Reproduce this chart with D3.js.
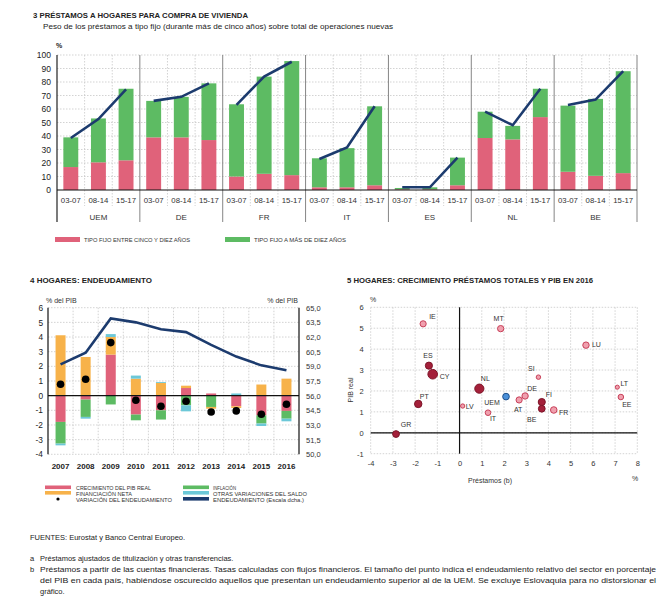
<!DOCTYPE html>
<html><head><meta charset="utf-8">
<script src="https://cdn.jsdelivr.net/npm/d3@7"></script>
<style>
body{margin:0;background:#fff;}
svg text{font-family:"Liberation Sans",Arial,Helvetica,sans-serif;}
</style></head>
<body><svg id="c" width="667" height="616"></svg>
<script>
// ---------- DATA: chart 3 ----------
const groups = ["UEM","DE","FR","IT","ES","NL","BE"];
const periods = ["03-07","08-14","15-17"];
const fijo5a10 = [[17,20.5,22],[39,39,37],[10,12,11],[2,2,3.5],[0.5,0.5,3.5],[38.5,37.5,54],[13.5,10.5,12.5]];
const fijoMas10 = [[22,32.5,53],[27,30,42],[53.5,72,84.5],[21.5,29,58.5],[1,1.5,20.5],[19.5,10,21],[49,57,75.5]];
const totalLinea = [[38.5,52.5,74.5],[66,69,79],[63,84,95],[23,31.5,62],[2,2,24],[58,48,75],[63,67,88]];
const yTicks3 = [0,10,20,30,40,50,60,70,80,90,100];

// ---------- DATA: chart 4 ----------
const years = ["2007","2008","2009","2010","2011","2012","2013","2014","2015","2016"];
const pibReal     = [-1.79,-0.27, 2.80,-1.29,-1.00, 0.52, 0.15,-0.72,-1.34,-1.04];
const inflacion   = [-1.48,-1.18,-0.60,-0.39,-0.63,-0.66,-0.77, 0.00,-0.56,-0.53];
const financiacion= [ 4.12, 2.64, 1.20, 1.16, 0.87, 0.16,-0.12,-0.12, 0.76, 1.16];
const otras       = [-0.12,-0.12, 0.20, 0.21, 0.06,-0.41, 0.00, 0.15,-0.17,-0.18];
const variacion   = [ 0.78, 1.12, 3.62,-0.31,-0.72,-0.38,-1.11,-1.04,-1.27,-0.59];
const endeudamiento=[59.2,60.4,63.9,63.5,62.8,62.5,61.2,60.0,59.1,58.6];
const yTicksL = [-4,-3,-2,-1,0,1,2,3,4,5,6];
const yTicksR = [50,51.5,53,54.5,56,57.5,59,60.5,62,63.5,65];

// ---------- DATA: chart 5 ----------
const paises    = ["IE","MT","LU","ES","CY","SI","NL","LT","DE","UEM","EE","AT","FI","PT","BE","FR","LV","IT","GR"];
const prestamos = [-1.64,1.85,5.69,-1.38,-1.21,3.55,0.89,7.10,2.95,2.09,7.26,2.68,3.70,-1.86,3.70,4.24,0.14,1.28,-2.86];
const pibRealPais=[5.21,4.98,4.19,3.21,2.80,2.66,2.11,2.18,1.76,1.73,1.71,1.57,1.47,1.38,1.15,1.09,1.28,0.96,-0.06];
const deudaPais = [50,52,54,66,120,26,110,22,53,58,40,50,66,72,60,56,24,41,60];
const xTicks5 = [-4,-3,-2,-1,0,1,2,3,4,5,6,7,8];
const yTicks5 = [-1,0,1,2,3,4,5,6];

// ---------- drawing ----------
const svg = d3.select("#c");
svg.append("rect").attr("width",667).attr("height",616).attr("fill","#fff");
const RED="#E0627A", GREEN="#5DBB63", ORANGE="#F7B24A", CYAN="#6CC8D8", NAVY="#1C3B6E";
const GRID="#c8c8c8";
const fmtES = d3.format(".1f");
const fmtInt = d => String(d);

function txt(x,y,s,opt={}){
  const t = svg.append("text").attr("x",x).attr("y",y).text(s)
    .attr("font-size",opt.size||8).attr("fill",opt.fill||"#222")
    .attr("text-anchor",opt.anchor||"start");
  if(opt.bold) t.attr("font-weight","bold");
  if(opt.len) t.attr("textLength",opt.len).attr("lengthAdjust","spacingAndGlyphs");
  return t;
}

// ===== Chart 3 =====
{
  const x0 = d3.scaleBand().domain(groups).range([57,637]);
  const x1 = d3.scaleBand().domain(periods).range([0,x0.bandwidth()]);
  const y = d3.scaleLinear().domain([0,100]).range([190,55]);
  const g = svg.append("g");
  txt(33,18,"3  PRÉSTAMOS A HOGARES PARA COMPRA DE VIVIENDA",{size:7.5,bold:true,len:215});
  txt(43,29,"Peso de los préstamos a tipo fijo (durante más de cinco años) sobre total de operaciones nuevas",{size:7.3,len:350});
  txt(56,48,"%",{size:7,bold:true});
  g.selectAll(".hg").data(yTicks3.filter(d=>d>0)).join("line")
    .attr("x1",57).attr("x2",637).attr("y1",d=>y(d)).attr("y2",d=>y(d))
    .attr("stroke",GRID).attr("stroke-dasharray","1.5,1.5").attr("stroke-width",0.8);
  const divs=[];
  groups.forEach(gr=>periods.forEach((p,i)=>{ if(i>0) divs.push(x0(gr)+x1(p)); }));
  g.selectAll(".vd").data(divs).join("line")
    .attr("x1",d=>d).attr("x2",d=>d).attr("y1",55).attr("y2",206)
    .attr("stroke",GRID).attr("stroke-dasharray","1.5,1.5").attr("stroke-width",0.8);
  const seps = groups.map(gr=>x0(gr)).concat([x0.range()[1]]);
  g.selectAll(".gs").data(seps).join("line")
    .attr("x1",d=>d).attr("x2",d=>d).attr("y1",55).attr("y2",222)
    .attr("stroke",(d,i)=>i===0?"#222":"#777").attr("stroke-width",(d,i)=>i===0?1.2:0.9);
  const bw = x1.bandwidth()*0.54;
  groups.forEach((gr,gi)=>{
    periods.forEach((p,pi)=>{
      const cx = x0(gr)+x1(p)+(x1.bandwidth()-bw)/2;
      const r = fijo5a10[gi][pi], gv = fijoMas10[gi][pi];
      g.append("rect").attr("x",cx).attr("width",bw).attr("y",y(r)).attr("height",y(0)-y(r)).attr("fill",RED);
      g.append("rect").attr("x",cx).attr("width",bw).attr("y",y(r+gv)).attr("height",y(r)-y(r+gv)).attr("fill",GREEN);
      txt(x0(gr)+x1(p)+x1.bandwidth()/2,203,p,{size:7.8,anchor:"middle",fill:"#333"});
    });
    txt(x0(gr)+x0.bandwidth()/2,220,gr,{size:8,anchor:"middle",fill:"#333"});
    const line = d3.line().x((d,i)=>x0(gr)+x1(periods[i])+x1.bandwidth()/2).y(d=>y(d));
    g.append("path").attr("d",line(totalLinea[gi])).attr("fill","none").attr("stroke",NAVY).attr("stroke-width",2.6);
  });
  g.append("line").attr("x1",57).attr("x2",637).attr("y1",190).attr("y2",190).attr("stroke","#111").attr("stroke-width",1.2);
  const ax = d3.axisLeft(y).tickValues(yTicks3).tickSize(0).tickPadding(6);
  const ag = g.append("g").attr("transform","translate(57,0)").call(ax);
  ag.select(".domain").remove();
  ag.selectAll("text").attr("font-size",8.5).attr("fill","#222").attr("font-family","Liberation Sans, Arial");
  svg.append("rect").attr("x",55).attr("y",237).attr("width",25).attr("height",5).attr("fill",RED);
  txt(84,242,"TIPO FIJO ENTRE CINCO Y DIEZ AÑOS",{size:6,len:106,fill:"#333"});
  svg.append("rect").attr("x",225).attr("y",237).attr("width",25).attr("height",5).attr("fill",GREEN);
  txt(254,242,"TIPO FIJO A MÁS DE DIEZ AÑOS",{size:6,len:92,fill:"#333"});
}

// ===== Chart 4 =====
{
  const x = d3.scaleBand().domain(years).range([48,299]);
  const yL = d3.scaleLinear().domain([-4,6]).range([454.3,307.7]);
  const yR = d3.scaleLinear().domain([50,65]).range([454.3,307.7]);
  const g = svg.append("g");
  txt(30,283,"4  HOGARES: ENDEUDAMIENTO",{size:7.5,bold:true,len:122});
  txt(46,303,"% del PIB",{size:7,fill:"#333"});
  txt(298,303,"% del PIB",{size:7,fill:"#333",anchor:"end"});
  g.selectAll(".hg").data(yTicksL).join("line")
    .attr("x1",48).attr("x2",299).attr("y1",d=>yL(d)).attr("y2",d=>yL(d))
    .attr("stroke",GRID).attr("stroke-dasharray","1.5,1.5").attr("stroke-width",0.8);
  g.selectAll(".vg").data(years.slice(1)).join("line")
    .attr("x1",d=>x(d)).attr("x2",d=>x(d)).attr("y1",307.7).attr("y2",454.3)
    .attr("stroke",GRID).attr("stroke-dasharray","1.5,1.5").attr("stroke-width",0.8);
  const keys=["pib","infl","fin","otras"];
  const colors={pib:RED,infl:GREEN,fin:ORANGE,otras:CYAN};
  const rows = years.map((yr,i)=>({year:yr,pib:pibReal[i],infl:inflacion[i],fin:financiacion[i],otras:otras[i]}));
  const stack = d3.stack().keys(keys).offset(d3.stackOffsetDiverging)(rows);
  const bw = 10;
  stack.forEach(s=>{
    g.selectAll(null).data(s).join("rect")
      .attr("x",d=>x(d.data.year)+(x.bandwidth()-bw)/2).attr("width",bw)
      .attr("y",d=>yL(Math.max(d[0],d[1]))).attr("height",d=>Math.abs(yL(d[0])-yL(d[1])))
      .attr("fill",colors[s.key]);
  });
  g.append("line").attr("x1",48).attr("x2",299).attr("y1",yL(0)).attr("y2",yL(0)).attr("stroke","#111").attr("stroke-width",1.2);
  g.append("line").attr("x1",48).attr("x2",48).attr("y1",307.7).attr("y2",454.3).attr("stroke","#111").attr("stroke-width",1.2);
  g.append("line").attr("x1",299).attr("x2",299).attr("y1",307.7).attr("y2",454.3).attr("stroke","#111").attr("stroke-width",1.2);
  const line = d3.line().x((d,i)=>x(years[i])+x.bandwidth()/2).y(d=>yR(d));
  g.append("path").attr("d",line(endeudamiento)).attr("fill","none").attr("stroke",NAVY).attr("stroke-width",2.6);
  g.selectAll(".dot").data(variacion).join("circle")
    .attr("cx",(d,i)=>x(years[i])+x.bandwidth()/2).attr("cy",d=>yL(d)).attr("r",3.8).attr("fill","#000");
  const aL = g.append("g").attr("transform","translate(48,0)").call(d3.axisLeft(yL).tickValues(yTicksL).tickSize(0).tickPadding(5).tickFormat(fmtInt));
  aL.select(".domain").remove();
  aL.selectAll("text").attr("font-size",8.3).attr("fill","#222").attr("font-family","Liberation Sans, Arial");
  const aR = g.append("g").attr("transform","translate(299,0)").call(d3.axisRight(yR).tickValues(yTicksR).tickSize(0).tickPadding(7).tickFormat(d=>fmtES(d).replace(".",",")));
  aR.select(".domain").remove();
  aR.selectAll("text").attr("font-size",7.5).attr("fill","#333").attr("font-family","Liberation Sans, Arial");
  years.forEach(yr=>txt(x(yr)+x.bandwidth()/2,469,yr,{size:8,bold:true,anchor:"middle",fill:"#222"}));
  const L=[[45,489,RED,"CRECIMIENTO DEL PIB REAL",75],[45,494.5,ORANGE,"FINANCIACIÓN NETA",56],[183,489,GREEN,"INFLACIÓN",23],[183,494.5,CYAN,"OTRAS VARIACIONES DEL SALDO",94],[183,500.5,NAVY,"ENDEUDAMIENTO (Escala dcha.)",91]];
  L.forEach(l=>{
    svg.append("rect").attr("x",l[0]).attr("y",l[1]-3.5).attr("width",26).attr("height",3.6).attr("fill",l[2]);
    txt(l[0]+(l[0]<100?31:30),l[1]+1.2,l[3],{size:5.6,len:l[4],fill:"#333"});
  });
  svg.append("circle").attr("cx",58).attr("cy",499).attr("r",1.6).attr("fill","#000");
  txt(76,501.7,"VARIACIÓN DEL ENDEUDAMIENTO",{size:5.6,len:96,fill:"#333"});
}

// ===== Chart 5 =====
{
  const x = d3.scaleLinear().domain([-4,8]).range([370.7,637.3]);
  const y = d3.scaleLinear().domain([-1,6]).range([453.7,307.3]);
  const r = d3.scaleSqrt().domain([0,120]).range([0,4.8]);
  const g = svg.append("g");
  txt(347,283,"5  HOGARES: CRECIMIENTO PRÉSTAMOS TOTALES Y PIB EN 2016",{size:7.5,bold:true,len:246});
  txt(373,302,"%",{size:7,fill:"#333",anchor:"middle"});
  g.selectAll(".hg").data(yTicks5).join("line")
    .attr("x1",x(-4)).attr("x2",x(8)).attr("y1",d=>y(d)).attr("y2",d=>y(d))
    .attr("stroke",GRID).attr("stroke-dasharray","1.5,1.5").attr("stroke-width",0.8);
  g.selectAll(".vg").data(xTicks5).join("line")
    .attr("x1",d=>x(d)).attr("x2",d=>x(d)).attr("y1",y(6)).attr("y2",y(-1))
    .attr("stroke",GRID).attr("stroke-dasharray","1.5,1.5").attr("stroke-width",0.8);
  g.append("line").attr("x1",x(-4)).attr("x2",x(8)).attr("y1",y(0)).attr("y2",y(0)).attr("stroke","#111").attr("stroke-width",1.2);
  g.append("line").attr("x1",x(0)).attr("x2",x(0)).attr("y1",y(6)).attr("y2",y(-1)).attr("stroke","#111").attr("stroke-width",1.2);
  const ya = g.append("g").attr("transform",`translate(${x(-4)},0)`).call(d3.axisLeft(y).tickValues(yTicks5).tickSize(0).tickPadding(7).tickFormat(fmtInt));
  ya.select(".domain").remove();
  ya.selectAll("text").attr("font-size",7.5).attr("fill","#333").attr("font-family","Liberation Sans, Arial");
  const xa = g.append("g").attr("transform",`translate(0,${y(-1)})`).call(d3.axisBottom(x).tickValues(xTicks5).tickSize(0).tickPadding(7).tickFormat(fmtInt));
  xa.select(".domain").remove();
  xa.selectAll("text").attr("font-size",7.5).attr("fill","#333").attr("font-family","Liberation Sans, Arial");
  txt(490,483,"Préstamos (b)",{size:7,anchor:"middle",fill:"#333"});
  txt(635,481,"%",{size:7,anchor:"middle",fill:"#333"});
  svg.append("text").attr("transform","translate(353,390) rotate(-90)").attr("text-anchor","middle")
    .attr("font-size",7).attr("fill","#333").text("PIB real");
  const uemIdx = paises.indexOf("UEM");
  const uemDebt = deudaPais[uemIdx];
  const labelOff = {IE:[6,-5,"start"],MT:[-2,-8,"middle"],LU:[6,2,"start"],ES:[-1,-8,"middle"],CY:[7,5,"start"],
    SI:[-7,-6,"middle"],NL:[6,-8,"middle"],LT:[7,-1,"middle"],DE:[7,-5,"middle"],UEM:[-14,8,"middle"],
    EE:[6,10,"middle"],AT:[-1,12,"middle"],FI:[7,-5,"middle"],PT:[6,-5,"middle"],BE:[-10,13,"middle"],
    FR:[10,5,"middle"],LV:[7,3,"middle"],IT:[5,8,"middle"],GR:[10,-7,"middle"]};
  paises.forEach((p,i)=>{
    const cx=x(prestamos[i]), cy=y(pibRealPais[i]);
    let fill, stroke;
    if(p==="UEM"){fill="#4A90D9";stroke="#1d4f8a";}
    else if(deudaPais[i]>uemDebt){fill="#A4203A";stroke="#7d1428";}
    else {fill="#F0A0AE";stroke="#C8415A";}
    g.append("circle").attr("cx",cx).attr("cy",cy).attr("r",r(deudaPais[i])).attr("fill",fill).attr("stroke",stroke).attr("stroke-width",1);
    const o=labelOff[p];
    txt(cx+o[0],cy+o[1],p,{size:7,anchor:o[2],fill:"#333"});
  });
}

// ===== Footnotes =====
txt(30,540,"FUENTES: Eurostat y Banco Central Europeo.",{size:7.5,fill:"#222"});
txt(30,561,"a",{size:7.5,fill:"#222"});
txt(40,561,"Préstamos ajustados de titulización y otras transferencias.",{size:7.5,fill:"#222"});
txt(30,572,"b",{size:7.5,fill:"#222"});
txt(40,572,"Préstamos a partir de las cuentas financieras. Tasas calculadas con flujos financieros. El tamaño del punto indica el endeudamiento relativo del sector en porcentaje",{size:7.5,fill:"#222",len:616});
txt(40,583,"del PIB en cada país, habiéndose oscurecido aquellos que presentan un endeudamiento superior al de la UEM. Se excluye Eslovaquia para no distorsionar el",{size:7.5,fill:"#222",len:616});
txt(40,594,"gráfico.",{size:7.5,fill:"#222"});
</script></body></html>
